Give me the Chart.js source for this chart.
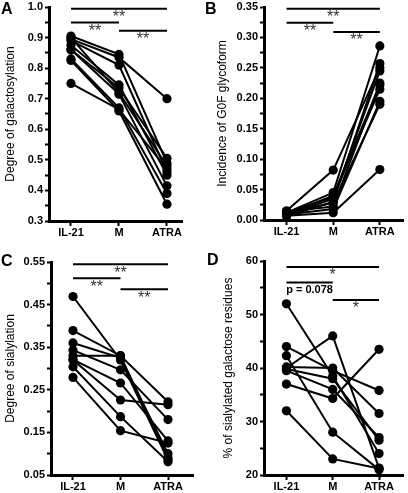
<!DOCTYPE html>
<html>
<head>
<meta charset="utf-8">
<script src="https://cdn.jsdelivr.net/npm/chart.js@4.4.1/dist/chart.umd.min.js"></script>
<style>
  body { margin: 0; background: #fff; }
  #fig { position: relative; width: 408px; height: 493px; overflow: hidden; }
  .panel { position: absolute; }
  .panel canvas { display: block; }
  .letter { position: absolute; font: bold 16px/16px "Liberation Sans", Arial, sans-serif; color: #000; }
</style>
</head>
<body>
<div id="fig">
  <div class="panel" style="left:0;top:0"><canvas id="chartA" width="204" height="246"></canvas></div>
  <div class="panel" style="left:204px;top:0"><canvas id="chartB" width="204" height="246"></canvas></div>
  <div class="panel" style="left:0;top:246px"><canvas id="chartC" width="204" height="247"></canvas></div>
  <div class="panel" style="left:204px;top:246px"><canvas id="chartD" width="204" height="247"></canvas></div>
  <div class="letter" style="left:1px;top:1px">A</div>
  <div class="letter" style="left:205px;top:1px">B</div>
  <div class="letter" style="left:1px;top:253px">C</div>
  <div class="letter" style="left:207px;top:252px">D</div>
</div>
<script>
/* ----- data ----- */
const categories = ['IL-21', 'M', 'ATRA'];

// A: degree of galactosylation (one entry per donor)
const galIL21 = [0.905, 0.895, 0.89, 0.875, 0.86, 0.86, 0.83, 0.825, 0.75, 0.90];
const galM    = [0.845, 0.835, 0.81, 0.745, 0.735, 0.715, 0.67, 0.66, 0.665, 0.72];
const galATRA = [0.49, 0.70, 0.46, 0.45, 0.505, 0.415, 0.39, 0.355, 0.47, 0.48];
const galSig  = [[0, 2, 0.994, '**'], [0, 1, 0.949, '**'], [1, 2, 0.922, '**']];

// B: incidence of G0F glycoform
const g0fIL21 = [0.015, 0.012, 0.010, 0.008, 0.006, 0.012, 0.014, 0.009, 0.007, 0.011];
const g0fM    = [0.082, 0.045, 0.040, 0.035, 0.030, 0.028, 0.022, 0.018, 0.012, 0.038];
const g0fATRA = [0.250, 0.286, 0.222, 0.245, 0.257, 0.190, 0.225, 0.195, 0.083, 0.215];
const g0fSig  = [[0, 2, 0.347, '**'], [0, 1, 0.324, '**'], [1, 2, 0.309, '**']];

// C: degree of sialylation
const sialIL21 = [0.469, 0.389, 0.36, 0.343, 0.33, 0.321, 0.32, 0.304, 0.279];
const sialM    = [0.32, 0.33, 0.325, 0.297, 0.33, 0.266, 0.226, 0.187, 0.154];
const sialATRA = [0.085, 0.222, 0.10, 0.18, 0.09, 0.13, 0.215, 0.081, 0.125];
const sialSig  = [[0, 2, 0.545, '**'], [0, 1, 0.512, '**'], [1, 2, 0.486, '**']];

// D: % of sialylated galactose residues
const pctIL21 = [52, 44, 42.3, 40, 40.2, 39.5, 37, 32, 39.8];
const pctM    = [38.5, 39.5, 28, 46, 40, 36, 34.3, 23, 38];
const pctATRA = [24, 35.8, 21, 21.3, 31.5, 27, 43.5, 21.2, 26.5];
const pctSig  = [[0, 2, 58.9, '*'], [0, 1, 56.0, 'p = 0.078'], [1, 2, 52.7, '*']];

/* ----- helpers ----- */
const FONT = '"Liberation Sans", Arial, sans-serif';
Chart.defaults.font.family = FONT;

const sigPlugin = {
    id: 'sig',
    afterDatasetsDraw(chart, args, opts) {
        const { ctx, scales: { x, y } } = chart;
        ctx.save();
        ctx.textAlign = 'center';
        ctx.textBaseline = 'top';
        opts.bars.forEach(([a, b, level, text]) => {
            const px = x.getPixelForValue((a + b) / 2);
            const py = y.getPixelForValue(level);
            if (text.startsWith('p')) {
                ctx.font = 'bold 11px ' + FONT;
                ctx.fillStyle = '#000';
                ctx.fillText(text, px, py + 2);
            } else {
                ctx.font = '16px ' + FONT;
                ctx.fillStyle = '#333';
                ctx.fillText(text, px, py + 1);
            }
        });
        ctx.restore();
    }
};

function halfTicks(min, max, step) {
    const out = [];
    const n = Math.round((max - min) / (step / 2));
    for (let i = 0; i <= n; i++) out.push({ value: +(min + i * step / 2).toFixed(6) });
    return out;
}

function makePanel(id, p) {
    const donors = p.il21.map((v, i) => ({
        data: [{ x: 0, y: v }, { x: 1, y: p.m[i] }, { x: 2, y: p.atra[i] }],
        borderColor: '#000',
        backgroundColor: '#000',
        pointBackgroundColor: '#000',
        borderWidth: 2,
        pointRadius: 4.6,
        pointBorderWidth: 0,
        clip: false
    }));
    const bars = p.sig.map(([a, b, level]) => ({
        data: [{ x: a, y: level }, { x: b, y: level }],
        borderColor: '#000',
        borderWidth: 2,
        pointRadius: 0,
        clip: false
    }));
    const isMajor = v => Math.round((v - p.yMin) / (p.yStep / 2)) % 2 === 0;

    new Chart(document.getElementById(id), {
        type: 'line',
        data: { datasets: [...bars, ...donors] },
        options: {
            responsive: false,
            animation: false,
            events: [],
            layout: { padding: { top: p.box.top, right: p.box.right, left: 0, bottom: 0 } },
            plugins: {
                legend: { display: false },
                tooltip: { enabled: false },
                sig: { bars: p.sig }
            },
            scales: {
                x: {
                    type: 'linear',
                    min: p.xMin,
                    max: p.xMax,
                    afterBuildTicks: s => { s.ticks = [0, 1, 2].map(v => ({ value: v })); },
                    afterFit: s => { s.height = p.box.xh; s.paddingLeft = 0; s.paddingRight = 0; },
                    ticks: {
                        autoSkip: false,
                        maxRotation: 0,
                        padding: 1,
                        color: '#000',
                        font: { size: 11, weight: 'bold', lineHeight: 1 },
                        callback: v => categories[v]
                    },
                    grid: { drawOnChartArea: false, drawTicks: true, tickLength: 5, tickWidth: 2, tickColor: '#000' },
                    border: { display: true, width: 3, color: '#000' }
                },
                y: {
                    min: p.yMin,
                    max: p.yMax,
                    afterBuildTicks: s => { s.ticks = halfTicks(p.yMin, p.yMax, p.yStep); },
                    afterFit: s => { s.width = p.box.left; s.paddingTop = 0; s.paddingBottom = 0; },
                    ticks: {
                        autoSkip: false,
                        padding: 2,
                        color: '#000',
                        font: { size: 11, weight: 'bold', lineHeight: 1 },
                        callback: v => isMajor(v) ? v.toFixed(p.digits) : ''
                    },
                    grid: { drawOnChartArea: false, drawTicks: true, tickLength: 4, tickWidth: 2, tickColor: '#000' },
                    border: { display: true, width: 3, color: '#000' },
                    title: {
                        display: true,
                        text: p.title,
                        color: '#000',
                        font: { size: 12 },
                        padding: { top: p.titlePad, bottom: 0 }
                    }
                }
            }
        },
        plugins: [sigPlugin]
    });
}

/* ----- panels ----- */
makePanel('chartA', {
    il21: galIL21, m: galM, atra: galATRA, sig: galSig,
    yMin: 0.3, yMax: 1.0, yStep: 0.1, digits: 1,
    title: 'Degree of galactosylation', titlePad: 3,
    xMin: -0.458, xMax: 2.313,
    box: { left: 49, top: 7, right: 22, xh: 25 }
});

makePanel('chartB', {
    il21: g0fIL21, m: g0fM, atra: g0fATRA, sig: g0fSig,
    yMin: 0, yMax: 0.35, yStep: 0.05, digits: 2,
    title: 'Incidence of G0F glycoform', titlePad: 11,
    xMin: -0.484, xMax: 2.505,
    box: { left: 60, top: 7, right: 2, xh: 26 }
});

makePanel('chartC', {
    il21: sialIL21, m: sialM, atra: sialATRA, sig: sialSig,
    yMin: 0.05, yMax: 0.55, yStep: 0.1, digits: 2,
    title: 'Degree of sialylation', titlePad: 3,
    xMin: -0.463, xMax: 2.526,
    box: { left: 51, top: 16, right: 11, xh: 18 }
});

makePanel('chartD', {
    il21: pctIL21, m: pctM, atra: pctATRA, sig: pctSig,
    yMin: 20, yMax: 60, yStep: 10, digits: 0,
    title: '% of sialylated galactose residues', titlePad: 17,
    xMin: -0.484, xMax: 2.526,
    box: { left: 60, top: 15, right: 1, xh: 18 }
});
</script>
</body>
</html>
